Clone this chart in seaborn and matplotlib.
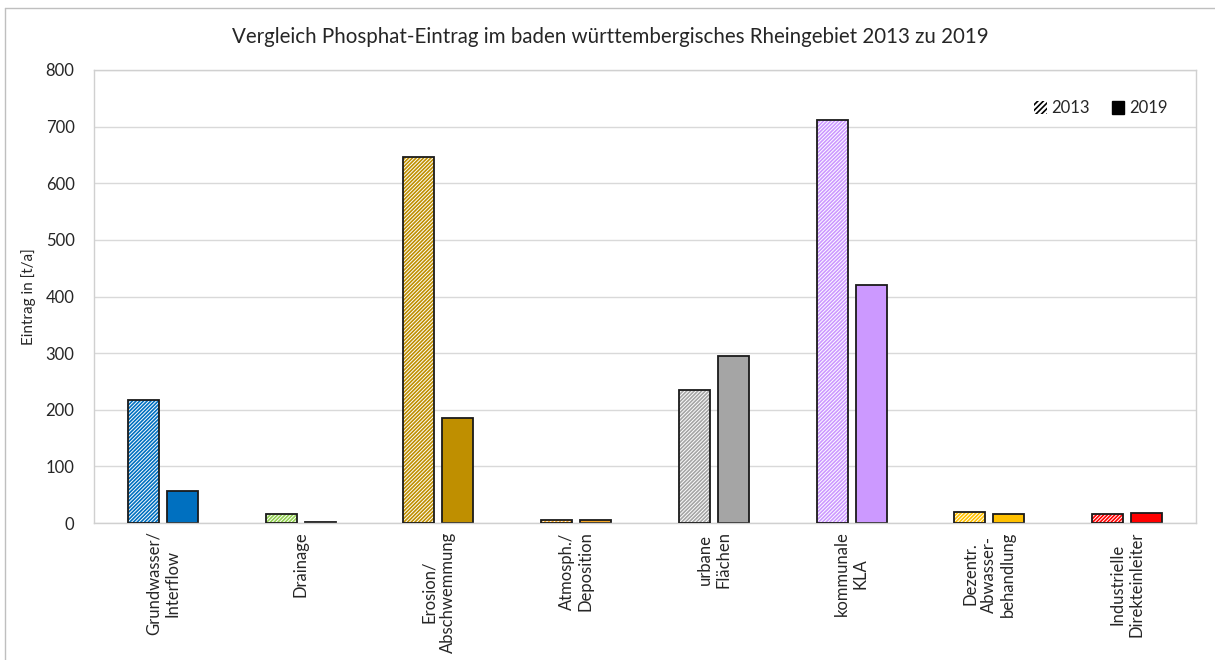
import matplotlib
matplotlib.use("Agg")
import matplotlib.pyplot as plt
from matplotlib.patches import Patch, Rectangle
from matplotlib.lines import Line2D
import seaborn as sns
import pandas as pd

# Sources of phosphate input and their loads in t/a
categories = [
    "Grundwasser/\nInterflow",
    "Drainage",
    "Erosion/\nAbschwemmung",
    "Atmosph./\nDeposition",
    "urbane\nFlächen",
    "kommunale\nKLA",
    "Dezentr.\nAbwasser-\nbehandlung",
    "Industrielle\nDirekteinleiter",
]
years = ["2013", "2019"]
values_2013 = [217, 16, 646, 6, 234, 711, 20, 16]
values_2019 = [57, 2, 185, 6, 295, 420, 16, 17]
colors = ["#0070C0", "#92D050", "#BF8F00", "#F5A623",
          "#A5A5A5", "#CC99FF", "#FFC000", "#FF0000"]

title = "Vergleich Phosphat-Eintrag im baden württembergisches Rheingebiet 2013 zu 2019"
ylabel = "Eintrag in [t/a]"

df = pd.DataFrame({
    "Quelle": categories * 2,
    "Jahr": [years[0]] * len(categories) + [years[1]] * len(categories),
    "Eintrag": values_2013 + values_2019,
})

sns.set_theme(style="white")
plt.rcParams["font.family"] = ["Lato", "DejaVu Sans"]
plt.rcParams["hatch.linewidth"] = 1.2

fig = plt.figure(figsize=(12.15, 6.6), dpi=100)
ax = fig.add_axes([94 / 1215, 1 - 523 / 660, (1196 - 94) / 1215, (523 - 70) / 660])

sns.barplot(data=df, x="Quelle", y="Eintrag", hue="Jahr", order=categories,
            hue_order=years, width=0.566, gap=0.2, ax=ax, legend=False,
            palette=["white", "black"])

hatched, solid = ax.containers[0], ax.containers[1]
for bar, c in zip(hatched, colors):
    bar.set_facecolor("white")
    bar.set_edgecolor(c)
    bar.set_hatch("/////////")
    bar.set_linewidth(0)
    ax.add_patch(Rectangle(bar.get_xy(), bar.get_width(), bar.get_height(),
                           fill=False, edgecolor="#1a1a1a", linewidth=1.3, zorder=3))
for bar, c in zip(solid, colors):
    bar.set_facecolor(c)
    bar.set_edgecolor("#1a1a1a")
    bar.set_linewidth(1.3)

ax.set_ylim(0, 800)
ax.set_yticks(range(0, 801, 100))
ax.set_xlim(-0.5, len(categories) - 0.5)
ax.yaxis.grid(True, color="#D9D9D9", linewidth=1.0)
ax.set_axisbelow(True)
for s in ax.spines.values():
    s.set_visible(True)
    s.set_color("#D0D0D0")
    s.set_linewidth(1.0)

ax.set_xlabel("")
ax.set_ylabel(ylabel, fontsize=11, color="#262626", labelpad=7)
ax.tick_params(axis="both", length=0, labelsize=12, colors="#262626")
ax.tick_params(axis="y", pad=14)
ax.tick_params(axis="x", pad=6)
ax.set_xticks(range(len(categories)))
ax.set_xticklabels(categories, rotation=90, ha="center", va="top",
                   multialignment="center", fontsize=12)

handles = [
    Patch(facecolor="white", edgecolor="black", hatch="//////", linewidth=0),
    Patch(facecolor="black", edgecolor="black"),
]
ax.legend(handles, years, loc="upper right", bbox_to_anchor=(0.988, 0.966), ncol=2,
          frameon=False, fontsize=12, handlelength=0.75, handleheight=0.75,
          handletextpad=0.3, columnspacing=1.3)

fig.text(0.502, 1 - 37 / 660, title, ha="center", va="center",
         fontsize=14.8, color="#262626")

# outer chart-area border
fig.add_artist(Line2D([5 / 1215, 5 / 1215], [0, 1 - 8 / 660],
                      transform=fig.transFigure, color="#BFBFBF", linewidth=1))
fig.add_artist(Line2D([5 / 1215, 1], [1 - 8 / 660, 1 - 8 / 660],
                      transform=fig.transFigure, color="#BFBFBF", linewidth=1))

fig.savefig("out.png", dpi=100, facecolor="white")
